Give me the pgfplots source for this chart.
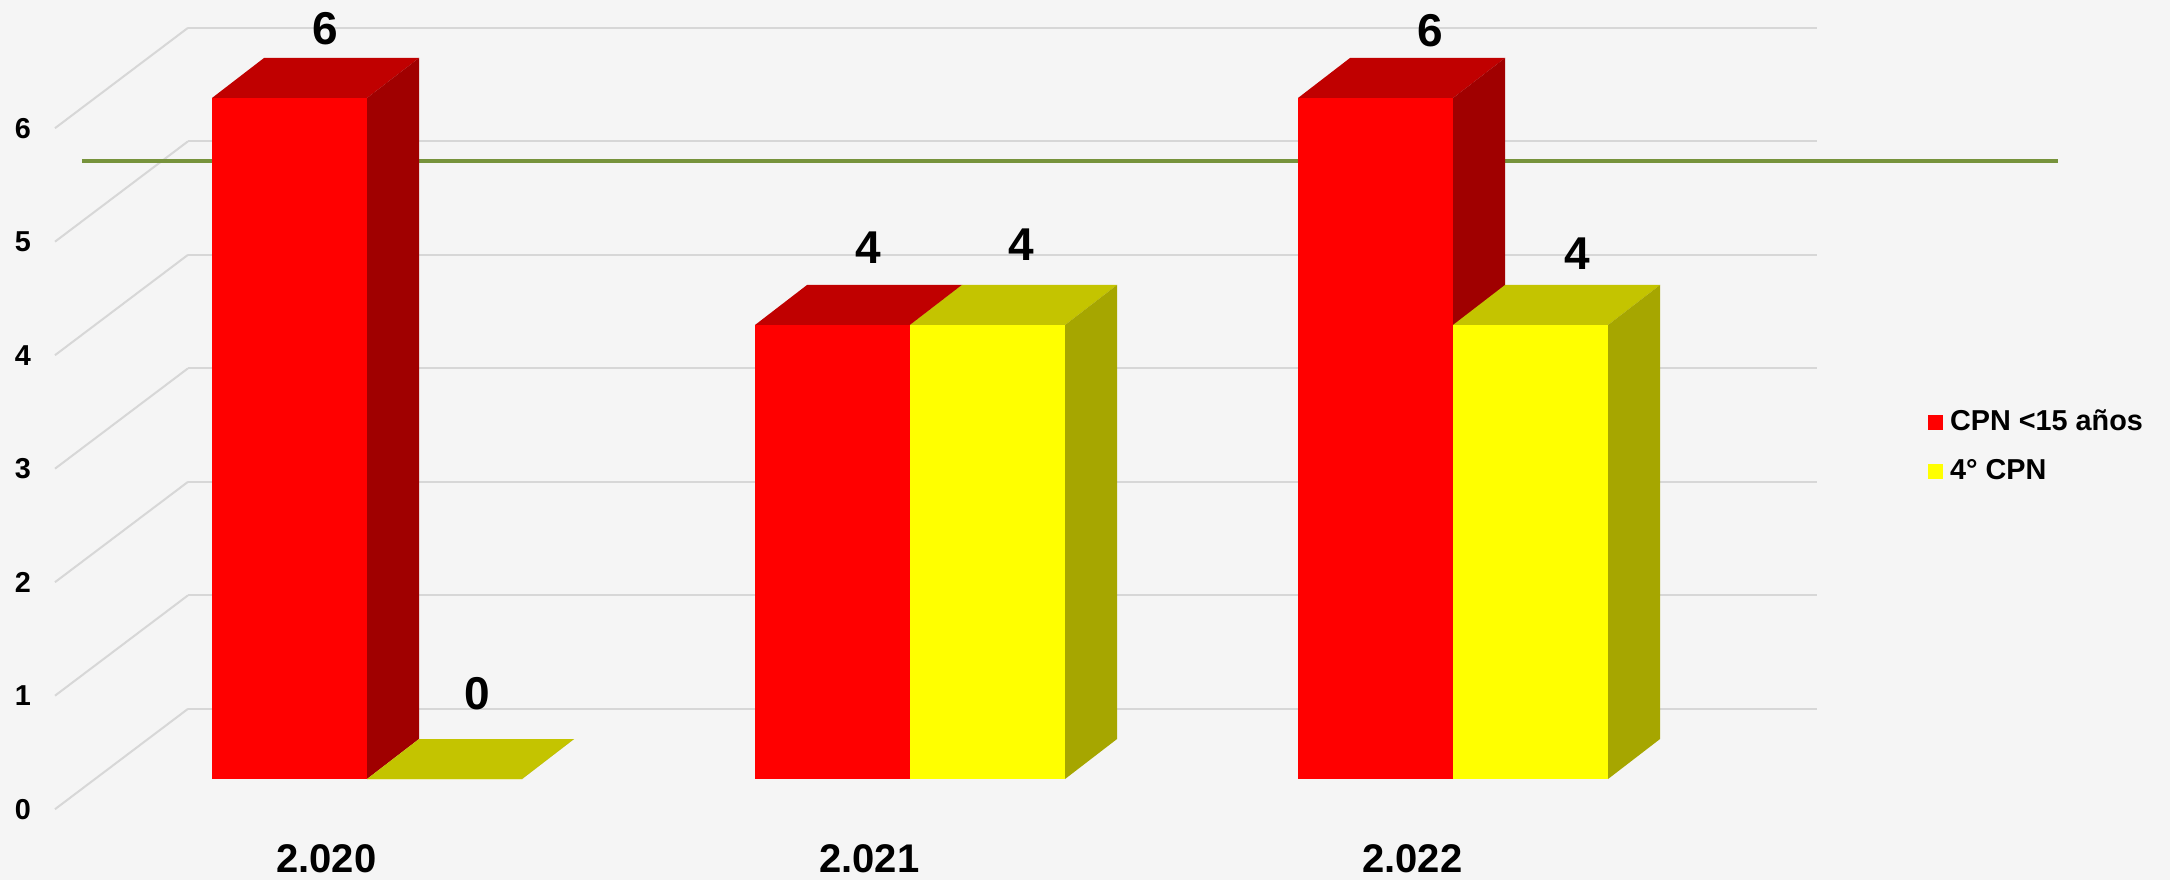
\documentclass[border=0pt]{standalone}
\usepackage{fontspec}
\setmainfont{Liberation Sans}
\usepackage{pgfplots}
\usepackage{pgfplotstable}
\pgfplotsset{compat=1.18}
\definecolor{bg}{RGB}{245,245,245}
\definecolor{gridc}{RGB}{215,215,215}
\definecolor{redfront}{RGB}{255,0,0}
\definecolor{redtop}{RGB}{192,0,0}
\definecolor{redside}{RGB}{160,0,0}
\definecolor{yelfront}{RGB}{255,255,0}
\definecolor{yeltop}{RGB}{196,196,0}
\definecolor{yelside}{RGB}{166,166,0}
\definecolor{greenl}{RGB}{119,147,60}

\pgfplotstableread{
x cpn cuarto
0 6 0
1 4 4
2 6 4
}\datatable

\pgfplotstableread{
x y lab
-0.0773 6.612 6
0.2026 0.753 0
0.9227 4.683 4
1.2044 4.705 4
1.9576 6.595 6
2.2284 4.630 4
}\labtable

% 3D bar drawn at the top-front-right corner of each bar
\pgfplotsset{
  bar3d/.style n args={3}{
    only marks, scatter, mark=*, mark size=0pt, mark options={draw=none,fill=none},
    scatter/@pre marker code/.code={%
      \path[draw=none, fill=#1] (-38.75pt,0pt) rectangle (0pt,{-\val*28.375pt});
      \path[draw=none, fill=#2] (-38.75pt,0pt) -- (0pt,0pt) -- (13pt,10pt) -- (-25.75pt,10pt) -- cycle;
      \path[draw=none, fill=#3] (0pt,0pt) -- (13pt,10pt) -- (13pt,{10pt-\val*28.375pt}) -- (0pt,{-\val*28.375pt}) -- cycle;
    },
    scatter/@post marker code/.code={},
    legend image code/.code={\path[draw=none, fill=#1] (0pt,-1.675pt) rectangle (3.75pt,2.075pt);},
  },
}

\begin{document}
\begin{tikzpicture}
\begin{axis}[
  x=135.75pt, y=28.375pt,
  xmin=-0.67587, xmax=3.32044,
  ymin=-0.88987, ymax=6.86344,
  clip=false,
  axis background/.style={fill=bg},
  axis line style={draw=none},
  major tick length=0pt,
  tick style={draw=none},
  xtick={-0.075,0.925,1.925},
  xticklabels={2.020,2.021,2.022},
  xticklabel style={anchor=center, yshift=5.25pt, font=\fontsize{10}{12}\selectfont\bfseries},
  ytick={-0.266,0.734,1.734,2.734,3.734,4.734,5.734},
  yticklabels={0,1,2,3,4,5,6},
  yticklabel style={anchor=center, xshift=5.75pt, font=\fontsize{7.2}{8.6}\selectfont\bfseries},
  legend cell align=left,
  legend style={at={(axis cs:2.8748,3.252)}, anchor=north west, draw=none, fill=none,
    inner sep=0pt, outer sep=0pt, row sep=5.7pt,
    font=\fontsize{7.2}{8.6}\selectfont\bfseries,
    nodes={inner sep=0pt},
    /tikz/every odd column/.append style={column sep=1.75pt}},
]
% back wall gridlines
\addplot[forget plot, gridc, line width=0.5pt] coordinates {(-0.3297,0.618) (2.670,0.618)};
\addplot[forget plot, gridc, line width=0.5pt] coordinates {(-0.3297,1.618) (2.670,1.618)};
\addplot[forget plot, gridc, line width=0.5pt] coordinates {(-0.3297,2.618) (2.670,2.618)};
\addplot[forget plot, gridc, line width=0.5pt] coordinates {(-0.3297,3.618) (2.670,3.618)};
\addplot[forget plot, gridc, line width=0.5pt] coordinates {(-0.3297,4.618) (2.670,4.618)};
\addplot[forget plot, gridc, line width=0.5pt] coordinates {(-0.3297,5.618) (2.670,5.618)};
\addplot[forget plot, gridc, line width=0.5pt] coordinates {(-0.3297,6.618) (2.670,6.618)};
% side wall diagonals
\addplot[forget plot, gridc, line width=0.5pt] coordinates {(-0.5746,-0.266) (-0.3297,0.618)};
\addplot[forget plot, gridc, line width=0.5pt] coordinates {(-0.5746,0.734) (-0.3297,1.618)};
\addplot[forget plot, gridc, line width=0.5pt] coordinates {(-0.5746,1.734) (-0.3297,2.618)};
\addplot[forget plot, gridc, line width=0.5pt] coordinates {(-0.5746,2.734) (-0.3297,3.618)};
\addplot[forget plot, gridc, line width=0.5pt] coordinates {(-0.5746,3.734) (-0.3297,4.618)};
\addplot[forget plot, gridc, line width=0.5pt] coordinates {(-0.5746,4.734) (-0.3297,5.618)};
\addplot[forget plot, gridc, line width=0.5pt] coordinates {(-0.5746,5.734) (-0.3297,6.618)};
% green reference line
\addplot[forget plot, greenl, line width=0.8pt] coordinates {(-0.525,5.445) (3.114,5.445)};

% red bars (CPN <15 anos)
\addplot[bar3d={redfront}{redtop}{redside},
  visualization depends on={\thisrow{cpn} \as \val}]
  table[x=x, y=cpn] {\datatable};
\addlegendentry{CPN <15 años}

% yellow bars (4 CPN)
\addplot[bar3d={yelfront}{yeltop}{yelside},
  visualization depends on={\thisrow{cuarto} \as \val}]
  table[x expr=\thisrow{x}+0.2855, y=cuarto] {\datatable};
\addlegendentry{4° CPN}

% data labels
\addplot[forget plot, only marks, mark=*, mark size=0pt, mark options={draw=none,fill=none},
  point meta=explicit symbolic,
  nodes near coords,
  every node near coord/.append style={anchor=center, inner sep=0pt, text=black,
    font=\fontsize{11.5}{13}\selectfont\bfseries}]
  table[x=x, y=y, meta=lab] {\labtable};
\end{axis}
\pgfresetboundingbox
\path[use as bounding box] (current axis.south west) rectangle (current axis.north east);
\end{tikzpicture}
\end{document}
